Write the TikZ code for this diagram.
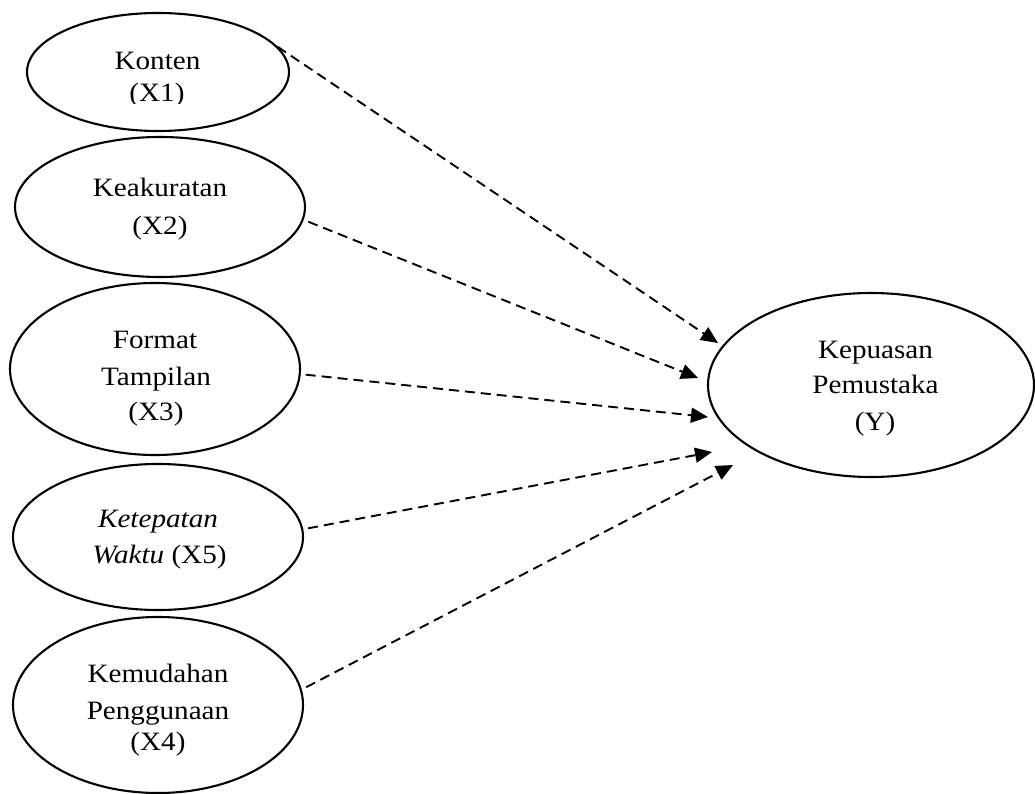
\documentclass[tikz,border=0pt]{standalone}
\usepackage{fontspec}
\setmainfont{Liberation Serif}[FakeStretch=1.1]
\usetikzlibrary{shapes.geometric,arrows.meta}
\begin{document}
\begin{tikzpicture}[x=1pt,y=-1pt,
  oval/.style={draw,ellipse,line width=2.1pt,inner sep=0pt,outer sep=0pt},
  lbl/.style={anchor=base,inner sep=0pt,font=\fontsize{26.5}{36}\selectfont},
  arr/.style={line width=1.9pt,dash pattern=on 10pt off 6pt,-{Triangle[length=17pt,width=15pt]},shorten <=6pt}]
\useasboundingbox (0,0) rectangle (1035,794);
% ellipses
\node[oval,minimum width=262pt,minimum height=118pt] (k1) at (158,72) {};
\node[oval,minimum width=290pt,minimum height=140pt] (k2) at (160,207) {};
\node[oval,minimum width=290pt,minimum height=172pt] (k3) at (155,369) {};
\node[oval,minimum width=290pt,minimum height=146pt] (k5) at (158,537) {};
\node[oval,minimum width=290pt,minimum height=176pt] (k4) at (158,705) {};
\node[oval,minimum width=326pt,minimum height=184pt] (y) at (871,385) {};
% labels
\node[lbl] (t1a) at (157.5,69.3) {Konten};
\begin{scope}
  \clip (0,0) rectangle (320,103.4);
  \node[lbl] (t1b) at (157,101.7) {(X1)};
\end{scope}
\node[lbl] (t2a) at (160,196.7) {Keakuratan};
\node[lbl] (t2b) at (160,234.5) {(X2)};
\node[lbl] (t3a) at (155,348) {Format};
\node[lbl] (t3b) at (156,385) {Tampilan};
\node[lbl] (t3c) at (156,420.7) {(X3)};
\node[lbl] (t5a) at (158,527) {\itshape Ketepatan};
\node[lbl] (t5b) at (159.5,563) {\textit{Waktu} (X5)};
\node[lbl] (t4a) at (158,682.7) {Kemudahan};
\node[lbl] (t4b) at (158,719.3) {Penggunaan};
\node[lbl] (t4c) at (158,750) {(X4)};
\node[lbl] (tya) at (875.5,358) {Kepuasan};
\node[lbl] (tyb) at (875.5,393) {Pemustaka};
\node[lbl] (tyc) at (875,430) {(Y)};
% arrow tips
\coordinate (tip1) at (718,343);
\coordinate (tip2) at (698,378);
\coordinate (tip3) at (708,417);
\coordinate (tip5) at (712,452);
\coordinate (tip4) at (733,465);
% connectors
\draw[arr] (k1.14) -- (tip1);
\draw[arr] (k2.-5.4) -- (tip2);
\draw[arr] (k3.-2.3) -- (tip3);
\draw[arr] (k5.3) -- (tip5);
\draw[arr] (k4.6.8) -- (tip4);
\end{tikzpicture}
\end{document}
